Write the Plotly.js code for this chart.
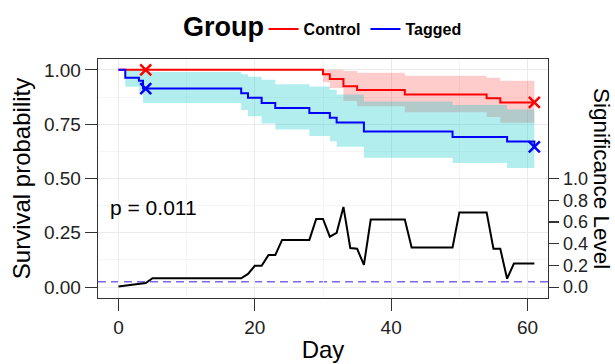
<!DOCTYPE html>
<html>
<head>
<meta charset="utf-8">
<script src="https://cdn.plot.ly/plotly-3.0.1.min.js"></script>
<style>html,body{margin:0;padding:0;background:#fff;}#chart{width:615px;height:364px;}</style>
</head>
<body>
<div id="chart"></div>
<script>
// ---- Data ----
// Control group Kaplan-Meier
const ctrlDays  = [0, 30, 31, 33, 35, 42, 54, 56, 61];
const ctrlSurv  = [1, 0.980, 0.958, 0.925, 0.907, 0.887, 0.869, 0.850, 0.850];
const ctrlLower = [1, 0.943, 0.917, 0.857, 0.832, 0.805, 0.783, 0.757, 0.757];
const ctrlUpper = [1, 1.000, 1.000, 0.995, 0.987, 0.973, 0.964, 0.950, 0.950];
const ctrlCensorDays = [4, 61];
const ctrlCensorSurv = [1.0, 0.850];

// Tagged group Kaplan-Meier
const tagDays  = [0, 1, 3, 3.6, 18, 19, 21, 23, 28, 31, 32, 36, 49, 57, 61];
const tagSurv  = [1, 0.964, 0.950, 0.914, 0.892, 0.872, 0.847, 0.825, 0.802, 0.780, 0.758, 0.716, 0.691, 0.670, 0.646];
const tagLower = [1, 0.922, 0.900, 0.848, 0.815, 0.786, 0.753, 0.726, 0.696, 0.671, 0.646, 0.595, 0.571, 0.548, 0.548];
const tagUpper = [1, 1.000, 1.000, 0.990, 0.980, 0.968, 0.954, 0.934, 0.924, 0.909, 0.887, 0.854, 0.838, 0.817, 0.817];
const tagCensorDays = [4, 61];
const tagCensorSurv = [0.914, 0.646];

// Significance level (p-value over time), right axis
const sigDays = [0, 1, 2, 3, 4, 5, 18, 19, 20, 21, 22, 23, 24, 28, 29, 30, 31, 32, 33, 34, 35, 36, 37, 42, 43, 49, 50, 54, 55, 56, 57, 58, 61];
const sigP    = [0.005, 0.012, 0.018, 0.025, 0.038, 0.082, 0.082, 0.122, 0.196, 0.196, 0.295, 0.295, 0.435, 0.435, 0.628, 0.628, 0.464, 0.500, 0.738, 0.360, 0.354, 0.205, 0.622, 0.622, 0.366, 0.366, 0.688, 0.688, 0.354, 0.354, 0.078, 0.217, 0.217];
const sigLevel = 0.05;

// Tick labels
const xTicks = [0, 20, 40, 60];
const xMinor = [10, 30, 50];
const yTicks = [0, 0.25, 0.5, 0.75, 1];
const yTickText = ['0.00', '0.25', '0.50', '0.75', '1.00'];
const yMinor = [0.125, 0.375, 0.625, 0.875];
const y2Ticks = [0, 0.2, 0.4, 0.6, 0.8, 1.0];
const y2TickText = ['0.0', '0.2', '0.4', '0.6', '0.8', '1.0'];
const pText = 'p = 0.011';
const legendTitle = 'Group';

const FONT = 'Liberation Sans, Arial, sans-serif';
const RED = '#FF0000', BLUE = '#0000FF';
const PINK = 'rgba(255,0,0,0.2)', CYAN = 'rgba(0,200,200,0.3)';

const traces = [
  // Control band
  {x: ctrlDays, y: ctrlLower, mode: 'lines', line: {shape: 'hv', width: 0}, hoverinfo: 'skip', showlegend: false},
  {x: ctrlDays, y: ctrlUpper, mode: 'lines', line: {shape: 'hv', width: 0}, fill: 'tonexty', fillcolor: PINK, hoverinfo: 'skip', showlegend: false},
  // Tagged band
  {x: tagDays, y: tagLower, mode: 'lines', line: {shape: 'hv', width: 0}, hoverinfo: 'skip', showlegend: false},
  {x: tagDays, y: tagUpper, mode: 'lines', line: {shape: 'hv', width: 0}, fill: 'tonexty', fillcolor: CYAN, hoverinfo: 'skip', showlegend: false},
  // Curves
  {x: ctrlDays, y: ctrlSurv, name: 'Control', mode: 'lines', line: {shape: 'hv', color: RED, width: 2}},
  {x: tagDays, y: tagSurv, name: 'Tagged', mode: 'lines', line: {shape: 'hv', color: BLUE, width: 2}},
  // Censor marks
  {x: ctrlCensorDays, y: ctrlCensorSurv, mode: 'markers', marker: {symbol: 'x-thin', size: 11, line: {color: RED, width: 2.5}, color: RED}, showlegend: false},
  {x: tagCensorDays, y: tagCensorSurv, mode: 'markers', marker: {symbol: 'x-thin', size: 11, line: {color: BLUE, width: 2.5}, color: BLUE}, showlegend: false},
  // Significance curve (right axis)
  {x: sigDays, y: sigP, yaxis: 'y2', mode: 'lines', line: {color: '#000', width: 2}, showlegend: false}
];

const axisCommon = {
  showline: true, linecolor: '#333', linewidth: 1.3, mirror: true,
  ticks: 'outside', ticklen: 12, tickwidth: 1.2, tickcolor: '#333',
  showgrid: true, gridcolor: '#EBEBEB', gridwidth: 1, zeroline: false,
  tickfont: {family: FONT, size: 19, color: '#222'}
};

const layout = {
  width: 615, height: 364,
  margin: {l: 98, r: 67, t: 52, b: 66},
  paper_bgcolor: '#fff', plot_bgcolor: '#fff',
  font: {family: FONT},
  xaxis: Object.assign({}, axisCommon, {
    range: [-3, 63], tickvals: xTicks,
    minor: {tickvals: xMinor, showgrid: true, gridcolor: '#F5F5F5', ticks: ''},
    title: {text: 'Day', font: {family: FONT, size: 24, color: '#000'}, standoff: 4}
  }),
  yaxis: Object.assign({}, axisCommon, {
    range: [-0.05, 1.05], tickvals: yTicks, ticktext: yTickText,
    minor: {tickvals: yMinor, showgrid: true, gridcolor: '#F5F5F5', ticks: ''},
    title: {text: 'Survival probability', font: {family: FONT, size: 24, color: '#000'}, standoff: 6}
  }),
  yaxis2: Object.assign({}, axisCommon, {
    overlaying: 'y', side: 'right', showgrid: false, mirror: false, ticklen: 10,
    tickfont: {family: FONT, size: 18, color: '#222'},
    range: [-0.1, 2.1], tickvals: y2Ticks, ticktext: y2TickText
  }),
  shapes: [
    {type: 'line', xref: 'paper', x0: 0, x1: 1, yref: 'y2', y0: sigLevel, y1: sigLevel,
     line: {color: '#7B68EE', width: 1.5, dash: '8px,5px'}, layer: 'below'}
  ],
  annotations: [
    {text: pText, xref: 'x', yref: 'y', x: -1.6, y: 0.366, xanchor: 'left', yanchor: 'middle',
     showarrow: false, font: {family: FONT, size: 21, color: '#000'}},
    {text: 'Significance Level', xref: 'paper', yref: 'paper', x: 1.119, y: 0.5, textangle: 90,
     xanchor: 'center', yanchor: 'middle', showarrow: false, font: {family: FONT, size: 22.5, color: '#000'}},
    {text: '<b>' + legendTitle + '</b>', xref: 'paper', yref: 'paper', x: 0.184, y: 1.135,
     xanchor: 'left', yanchor: 'middle', showarrow: false, font: {family: FONT, size: 27, color: '#000'}}
  ],
  legend: {
    orientation: 'h', traceorder: 'normal', x: 0.368, xanchor: 'left', y: 1.125, yanchor: 'middle',
    font: {family: FONT, size: 16, color: '#000', weight: 'bold'},
    itemwidth: 30, bgcolor: 'rgba(0,0,0,0)'
  },
  showlegend: true
};

Plotly.newPlot('chart', traces, layout, {displayModeBar: false, staticPlot: true});
</script>
</body>
</html>
